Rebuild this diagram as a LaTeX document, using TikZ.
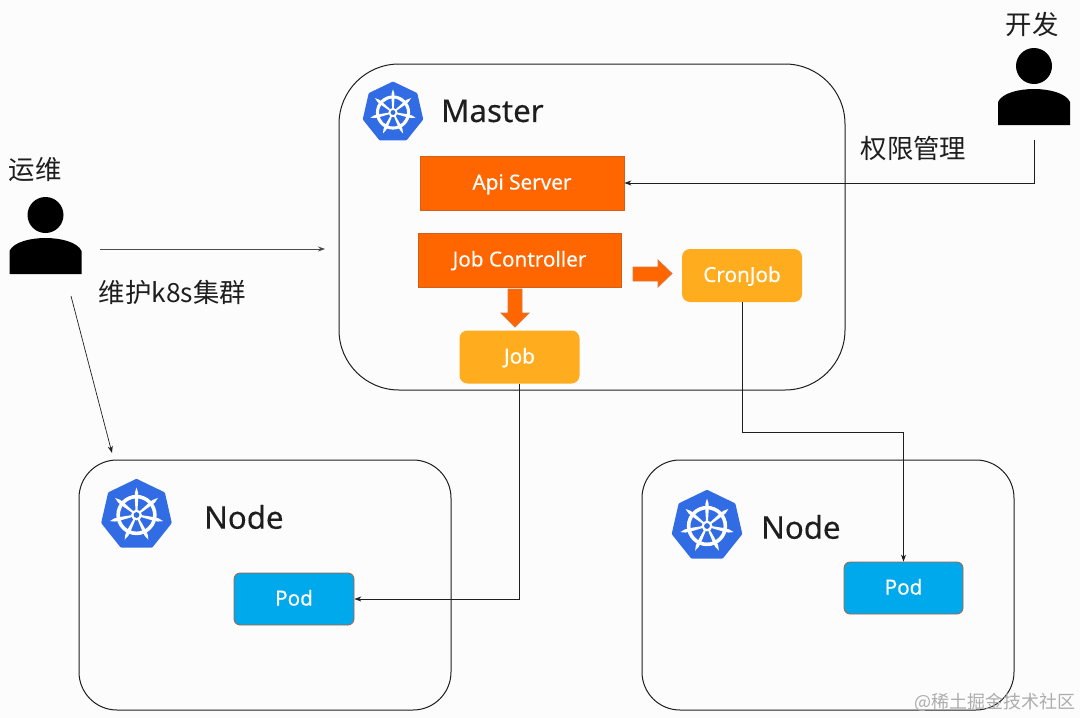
\documentclass[tikz,border=0pt]{standalone}
\usepackage{fontspec}
\setmainfont[FakeBold=0.25]{Noto Sans}
\newfontfamily\cjk{Noto Sans CJK SC}
\usetikzlibrary{arrows.meta,calc}
\definecolor{kblue}{HTML}{326CE5}
\definecolor{korange}{HTML}{FF6600}
\definecolor{kedge}{HTML}{D2601A}
\definecolor{kyellow}{HTML}{FFAD1F}
\definecolor{kpod}{HTML}{00A8EC}
\definecolor{kpodedge}{HTML}{B5603A}
\definecolor{kink}{HTML}{1E1E1E}
\newcommand{\boxfont}{\bfseries\fontsize{20.7}{24}\selectfont}
\tikzset{
  panel/.style={draw=kink,line width=1pt,rounded corners=#1,fill=none},
  labeltext/.style={text=white,font=\boxfont,inner sep=0pt,text height=13pt,text depth=0pt},
  orangebox/.style={draw=kedge,line width=0.8pt,fill=korange,labeltext},
  yellowbox/.style={fill=kyellow,rounded corners=8pt,labeltext},
  podbox/.style={draw=kpodedge,line width=0.8pt,fill=kpod,rounded corners=6pt,labeltext},
  title/.style={text=kink,font=\bfseries\fontsize{31.2}{36}\selectfont,inner sep=0pt},
  cnlabel/.style={text=kink,font=\cjk\fontsize{26.4}{30}\selectfont,inner sep=0pt},
  link/.style={draw=kink,line width=0.7pt,-{Stealth[length=7pt,width=5pt]}},
  blockarrow/.style={draw=kedge!85!white,line width=0.8pt,fill=korange},
  logo/.pic={
    \begin{scope}[x=#1pt,y=#1pt]
    \fill[kblue,draw=kblue,line width=4pt,line join=round]
      (90:0.945) -- (141.43:0.945) -- (192.86:0.945) -- (244.29:0.945) -- (295.71:0.945) -- (347.14:0.945) -- (38.57:0.945) -- cycle;
    \fill[white,even odd rule] (0,0) circle (0.56) (0,0) circle (0.46);
    \foreach \a in {90,141.43,192.86,244.29,295.71,347.14,38.57}{
      \begin{scope}[rotate=\a-90]
      \fill[white] (-0.025,0.1) -- (-0.05,0.5) -- (-0.045,0.62) -- (0,0.76) -- (0.045,0.62) -- (0.05,0.5) -- (0.025,0.1) -- cycle;
      \end{scope}
    }
    \fill[white] (0,0) circle (0.15);
    \fill[kblue] (0,0) circle (0.08);
    \end{scope}
  },
  person/.pic={
    \fill[black] (0,0) circle (18);
    \fill[black] (-36,59) -- (-36,36) .. controls (-32,27) and (-15,23) .. (0,23)
      .. controls (15,23) and (32,27) .. (36,36) -- (36,59) -- cycle;
  }
}
\begin{document}
\begin{tikzpicture}[x=1pt,y=-1pt]
\useasboundingbox (0,0) rectangle (1080,718);
\fill[white!99!black] (0,0) rectangle (1080,718);

% panels
\draw[panel=60pt] (339,64) rectangle (845,390);
\draw[panel=38pt] (79,460) rectangle (451,710);
\draw[panel=38pt] (642,460) rectangle (1014,710);

% logos
\pic at (393,112.5) {logo=30.5};
\pic at (136.5,515) {logo=36};
\pic at (707,526) {logo=36};

% titles
\node[title,anchor=west] (mastertitle) at (441,111) {Master};
\node[title,anchor=west] (nodetitlea) at (204,517) {Node};
\node[title,anchor=west] (nodetitleb) at (761,527) {Node};

% boxes
\node[orangebox,minimum width=204pt,minimum height=54pt] (api) at (522,183) {Api Server};
\node[orangebox,minimum width=203pt,minimum height=54pt] (jobctl) at (519.5,260) {Job Controller};
\node[yellowbox,minimum width=120pt,minimum height=53pt] (cron) at (742,275.5) {CronJob};
\node[yellowbox,minimum width=120pt,minimum height=53pt] (job) at (519.5,357) {Job};
\node[podbox,minimum width=120pt,minimum height=52pt] (poda) at (294,599) {Pod};
\node[podbox,minimum width=119pt,minimum height=52pt] (podb) at (903.5,588) {Pod};

% block arrows
\draw[blockarrow] (633,267) -- (658,267) -- (658,260) -- (672,273.5) -- (658,287) -- (658,281) -- (633,281) -- cycle;
\draw[blockarrow] (508,289) -- (522,289) -- (522,313) -- (529,313) -- (515,327) -- (501,313) -- (508,313) -- cycle;

% people
\pic at (45.5,215) {person};
\pic at (1034,66) {person};
\node[cnlabel] (ops) at (35,170) {运维};
\node[cnlabel] (dev) at (1032,24) {开发};
\node[cnlabel,anchor=west] (opstext) at (98.5,292) {维护k8s集群};
\node[cnlabel,anchor=west] (devtext) at (860.5,148) {权限管理};

% connectors
\coordinate (devfoot) at (1034,140);
\coordinate (opsright) at (100,249);
\coordinate (masterleft) at (325,249);
\coordinate (opsfoot) at (71,296);
\coordinate (nodeatop) at (112,453);
\draw[link] (devfoot) |- (api.east);
\draw[link,draw=kink!80!white] (opsright) -- (masterleft);
\draw[link] (opsfoot) -- (nodeatop);
\draw[link] (job.south) |- (poda.east);
\draw[link] (cron.south) -- ++(0,130) -| (podb.north);

% watermark
\node[text=black!32,font=\cjk\fontsize{18}{20}\selectfont,inner sep=0pt,anchor=east] (mark) at (1076,702) {@稀土掘金技术社区};
\end{tikzpicture}
\end{document}
